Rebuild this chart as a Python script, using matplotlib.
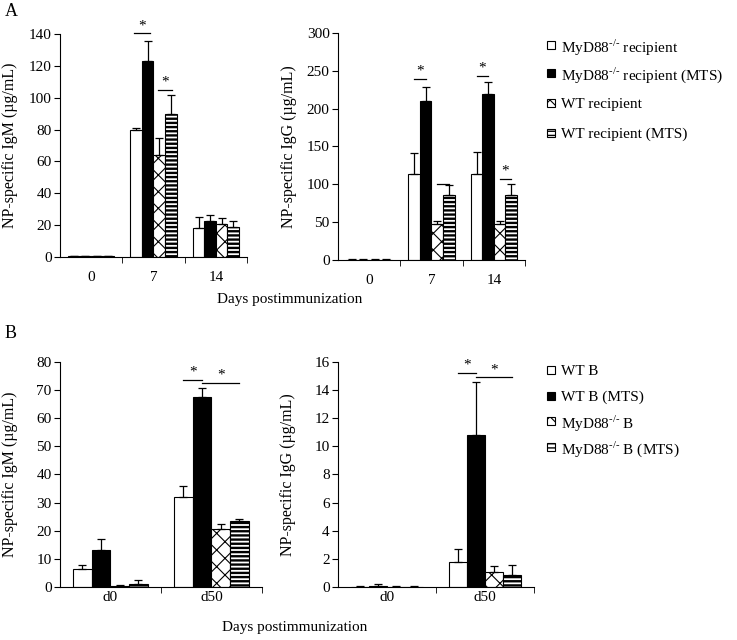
import matplotlib
matplotlib.use('Agg')
import matplotlib.pyplot as plt
from matplotlib.patches import Rectangle
import numpy as np

plt.rcParams['font.family'] = 'Liberation Serif'
plt.rcParams['mathtext.fontset'] = 'custom'
plt.rcParams['mathtext.rm'] = 'Liberation Serif'
plt.rcParams['hatch.linewidth'] = 1.0
plt.rcParams['font.size'] = 11

# ---- panel A data ----
daysA = ['0', '7', '14']
legendA = [r'MyD88$^{\text{-/-}}$ recipient', r'MyD88$^{\text{-/-}}$ recipient (MTS)',
           'WT recipient', 'WT recipient (MTS)']
igmA = [[0.5, 79.8, 18.3], [0.5, 123.0, 22.5], [0.4, 64.0, 20.8], [0.5, 89.5, 18.7]]
igmA_err = [[0.2, 1.2, 7.0], [0.2, 12.5, 4.0], [0.2, 10.5, 4.0], [0.2, 12.0, 3.7]]
iggA = [[0.5, 114.0, 114.0], [0.5, 210.0, 219.0], [0.4, 47.0, 47.0], [0.5, 85.5, 86.0]]
iggA_err = [[0.3, 28.0, 29.0], [0.3, 18.0, 16.5], [0.3, 5.0, 5.0], [0.3, 14.0, 14.0]]

# ---- panel B data ----
daysB = ['d0', 'd50']
legendB = ['WT B', 'WT B (MTS)', r'MyD88$^{\text{-/-}}$ B', r'MyD88$^{\text{-/-}}$ B (MTS)']
igmB = [[6.5, 32.0], [13.3, 67.7], [0.5, 20.7], [1.2, 23.5]]
igmB_err = [[1.2, 3.8], [3.6, 3.2], [0.2, 1.6], [1.2, 0.7]]
iggB = [[0.03, 1.75], [0.1, 10.8], [0.02, 1.07], [0.02, 0.88]]
iggB_err = [[0.02, 0.95], [0.1, 3.8], [0.02, 0.45], [0.02, 0.67]]

# significance bars: (group, bar from, bar to, y, star)
sig_igmA = [(1, -0.2, 1.2, 140.5, True), (1, 1.9, 3.1, 105.0, True)]
sig_iggA = [(1, 0.0, 1.0, 239.5, True), (1, 2.0, 3.0, 100.5, False),
            (2, 0.0, 1.0, 243.5, True), (2, 2.0, 3.0, 107.0, True)]
sig_igmB = [(1, 0.0, 1.0, 73.7, True), (1, 1.0, 3.0, 72.5, True)]
sig_iggB = [(1, 0.0, 1.0, 15.25, True), (1, 1.0, 3.0, 14.9, True)]

styles = [dict(facecolor='white', hatch=None),
          dict(facecolor='black', hatch=None),
          dict(facecolor='white', hatch='xx'),
          dict(facecolor='white', hatch='----')]
hatch_lw = [1.0, 1.0, 0.8, 1.7]
w = 0.185


def set_hlw(patch, lw):
    if hasattr(patch, 'set_hatch_linewidth'):
        patch.set_hatch_linewidth(lw)


def draw(ax, cats, vals, errs, ylim, step, ylabel, sigs, labx, xpad):
    x = np.arange(len(cats))
    for i in range(4):
        pos = x + (i - 1.5) * w
        with plt.rc_context({'hatch.linewidth': hatch_lw[i]}):
            bars = ax.bar(pos, vals[i], w, edgecolor='black', linewidth=0.8, **styles[i], zorder=2)
        for b in bars:
            set_hlw(b, hatch_lw[i])
        ax.errorbar(pos, vals[i], yerr=[np.zeros(len(cats)), errs[i]], fmt='none',
                    ecolor='black', elinewidth=0.9, capsize=3, capthick=0.9, zorder=3)
    span = ylim[1] - ylim[0]
    for g, a, b, y, star in sigs:
        x1 = g + (a - 1.5) * w
        x2 = g + (b - 1.5) * w
        ax.plot([x1, x2], [y, y], color='black', lw=0.9, clip_on=False)
        if star:
            ax.text((x1 + x2) / 2, y + span * 0.005, '*', ha='center', va='bottom', fontsize=11)
    ax.set_xlim(-0.5, len(cats) - 0.5)
    ax.set_ylim(*ylim)
    ax.set_yticks(np.arange(ylim[0], ylim[1] + step / 2, step))
    ax.set_xticks(x)
    ax.set_xticklabels(cats)
    ax.tick_params(axis='x', which='major', length=0, pad=xpad)
    ax.set_xticks(np.arange(0.5, len(cats)), minor=True)
    ax.tick_params(axis='x', which='minor', length=4, direction='out')
    ax.tick_params(axis='y', length=4, direction='out', pad=2)
    for s in ['top', 'right']:
        ax.spines[s].set_visible(False)
    ax.set_ylabel(ylabel, fontsize=11.5)
    ax.yaxis.set_label_coords(labx, 0.5)


def legend(fig, labels, rows_px):
    W, H = 737.0, 640.0
    for i, (lab, yp) in enumerate(zip(labels, rows_px)):
        with plt.rc_context({'hatch.linewidth': min(hatch_lw[i], 1.0)}):
            r = Rectangle((547 / W, 1 - (yp + 4) / H), 8 / W, 8 / H, transform=fig.transFigure,
                          edgecolor='black', linewidth=0.8, **styles[i])
        set_hlw(r, min(hatch_lw[i], 1.0))
        fig.add_artist(r)
        fig.text(561 / W, 1 - yp / H, lab, ha='left', va='center_baseline', fontsize=11)


fig = plt.figure(figsize=(7.37, 6.4), dpi=100)
ax1 = fig.add_axes([0.0814, 0.5984, 0.2537, 0.3484])
ax2 = fig.add_axes([0.4586, 0.5938, 0.2537, 0.3547])
ax3 = fig.add_axes([0.0814, 0.0828, 0.274, 0.3516])
ax4 = fig.add_axes([0.4586, 0.0828, 0.266, 0.3516])

draw(ax1, daysA, igmA, igmA_err, (0, 140), 20, 'NP-specific IgM (µg/mL)', sig_igmA, -0.224, 10)
draw(ax2, daysA, iggA, iggA_err, (0, 300), 50, 'NP-specific IgG (µg/mL)', sig_iggA, -0.22, 10)
draw(ax3, daysB, igmB, igmB_err, (0, 80), 10, 'NP-specific IgM (µg/mL)', sig_igmB, -0.208, 3)
draw(ax4, daysB, iggB, iggB_err, (0, 16), 2, 'NP-specific IgG (µg/mL)', sig_iggB, -0.215, 3)

fig.text(290 / 737, 1 - 300 / 640, 'Days postimmunization', ha='center', va='center', fontsize=11)
fig.text(295 / 737, 1 - 628 / 640, 'Days postimmunization', ha='center', va='center', fontsize=11)
fig.text(5 / 737, 1 - 12 / 640, 'A', ha='left', va='center', fontsize=13)
fig.text(5 / 737, 1 - 333 / 640, 'B', ha='left', va='center', fontsize=13)

legend(fig, legendA, [45, 73, 103, 133])
legend(fig, legendB, [370, 396, 421, 447])

fig.savefig('out.png', dpi=100)
